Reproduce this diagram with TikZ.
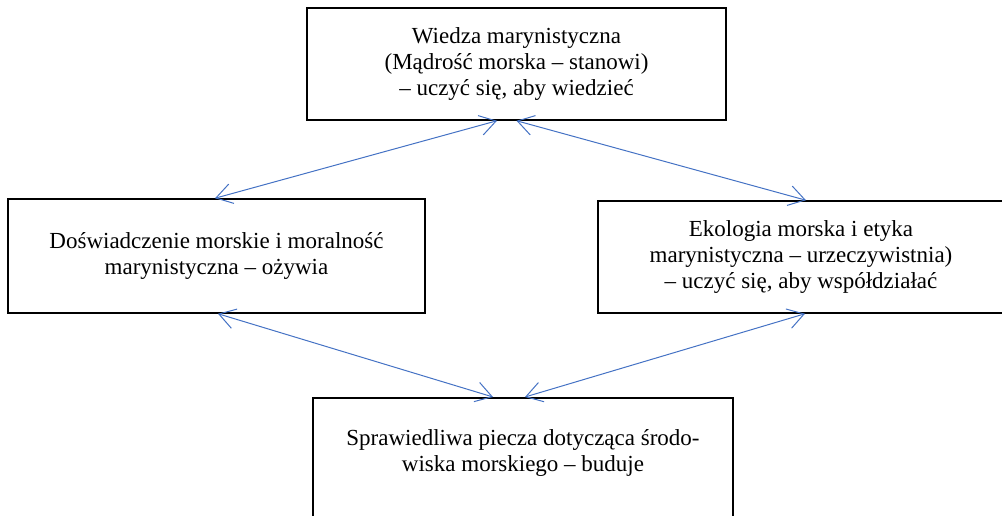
\documentclass[tikz,border=0pt]{standalone}
\usepackage{fontspec}
\setmainfont{Liberation Serif}
\newfontfamily\boxfont{Liberation Serif}
\usetikzlibrary{positioning,arrows.meta,calc}
\definecolor{linkblue}{RGB}{68,114,196}
\tikzset{box/.style={
    draw, line width=0.75pt, align=center, inner sep=0pt,
    font=\boxfont\fontsize{11.5}{13.2}\selectfont
    },
    txt/.style={align=center, inner sep=0pt, font=\boxfont\fontsize{11.5}{13.2}\selectfont},
    link/.style={linkblue, line width=0.5pt,
    {Straight Barb[length=8pt,width=10pt]}-{Straight Barb[length=8pt,width=10pt]}}
}
\begin{document}
\begin{tikzpicture}[x=0.5pt,y=0.5pt]
	\useasboundingbox (0,0) rectangle (1002,515);
	\node[box,minimum width=209.5pt,minimum height=56pt] (wiedza) at (516.5,451) {Wiedza marynistyczna\\(Mądrość morska – stanowi)\\– uczyć się, aby wiedzieć};
	\node[box,minimum width=208.5pt,minimum height=57pt] (doswiadczenie) at (216.5,259) {Doświadczenie morskie i moralność\\marynistyczna – ożywia};
	\node[box,minimum width=203pt,minimum height=56pt] (ekologia) at (801,258) {Ekologia morska i etyka\\marynistyczna – urzeczywistnia)\\– uczyć się, aby współdziałać};
	\node[box,minimum width=210pt,minimum height=70pt,anchor=north] (sprawiedliwa) at (523,118) {};
	\node[txt,below=16pt of sprawiedliwa.north] (sprawiedliwaT) {Sprawiedliwa piecza dotycząca środo-\\wiska morskiego – buduje};

	\draw [link] ([xshift=-9.75pt]wiedza.south) -- ([xshift=-0.75pt]doswiadczenie.north);
	\draw [link] (wiedza.south) -- ([xshift=2.5pt]ekologia.north);
	\draw [link] ([xshift=0.75pt]doswiadczenie.south) -- ([xshift=-15pt]sprawiedliwa.north);
	\draw [link] ([xshift=2pt]ekologia.south) -- ([xshift=1pt]sprawiedliwa.north);
	
\end{tikzpicture}
\end{document}
